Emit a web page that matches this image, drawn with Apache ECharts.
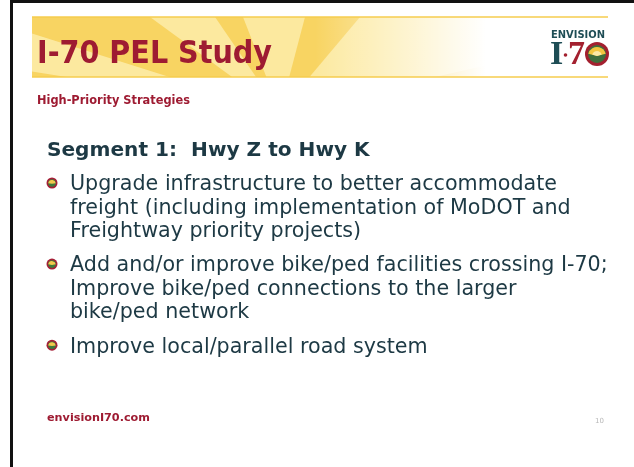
<!DOCTYPE html>
<html>
<head>
<meta charset="utf-8">
<script src="https://cdn.jsdelivr.net/npm/echarts@6/dist/echarts.min.js"></script>
<style>
html,body{margin:0;padding:0;background:#fff;}
#chart{width:634px;height:467px;}
</style>
</head>
<body>
<div id="chart"></div>
<script>
// ---- content ----
const titleText = 'I-70 PEL Study';
const subtitleText = 'High-Priority Strategies';
const segmentHeading = 'Segment 1:  Hwy Z to Hwy K';
const bulletItems = [
  ['Upgrade infrastructure to better accommodate',
   'freight (including implementation of MoDOT and',
   'Freightway priority projects)'],
  ['Add and/or improve bike/ped facilities crossing I-70;',
   'Improve bike/ped connections to the larger',
   'bike/ped network'],
  ['Improve local/parallel road system']
];
const footerText = 'envisionI70.com';
const pageNumber = '10';
const logoWord = 'ENVISION';
const logoDigits = ['I', '7'];

// ---- helpers ----
const ctx = document.createElement('canvas').getContext('2d');
function fitSize(text, weight, family, target) {
  ctx.font = weight + ' 100px ' + family;
  const w = ctx.measureText(text).width;
  return 100 * target / w;
}
function fontStr(weight, size, family) {
  return weight + ' ' + size.toFixed(2) + 'px ' + family;
}
function clipPoly(pts, x0, y0, x1, y1) {
  const edges = [p => p[0] >= x0, p => p[0] <= x1, p => p[1] >= y0, p => p[1] <= y1];
  const inter = [
    (a, b) => { const t = (x0 - a[0]) / (b[0] - a[0]); return [x0, a[1] + t * (b[1] - a[1])]; },
    (a, b) => { const t = (x1 - a[0]) / (b[0] - a[0]); return [x1, a[1] + t * (b[1] - a[1])]; },
    (a, b) => { const t = (y0 - a[1]) / (b[1] - a[1]); return [a[0] + t * (b[0] - a[0]), y0]; },
    (a, b) => { const t = (y1 - a[1]) / (b[1] - a[1]); return [a[0] + t * (b[0] - a[0]), y1]; }
  ];
  let out = pts;
  for (let e = 0; e < 4; e++) {
    const inp = out; out = [];
    for (let i = 0; i < inp.length; i++) {
      const cur = inp[i], prev = inp[(i + inp.length - 1) % inp.length];
      const cIn = edges[e](cur), pIn = edges[e](prev);
      if (cIn) { if (!pIn) out.push(inter[e](prev, cur)); out.push(cur); }
      else if (pIn) out.push(inter[e](prev, cur));
    }
  }
  return out;
}

// ---- style ----
const RED = '#9E1B32';
const BODY = '#1D3944';
const SANS = '"DejaVu Sans"';
const NARROW = '"Liberation Sans Narrow", "DejaVu Sans Condensed", sans-serif';
const SERIF = '"Liberation Serif", "DejaVu Serif", serif';

const graphics = [];

// slide border
graphics.push({ type: 'line', shape: { x1: 10, y1: 1.5, x2: 634, y2: 1.5 }, style: { stroke: '#111', lineWidth: 3 } });
graphics.push({ type: 'line', shape: { x1: 11.5, y1: 0, x2: 11.5, y2: 467 }, style: { stroke: '#111', lineWidth: 3 } });

// banner
const bx0 = 32, by0 = 17, bx1 = 520, by1 = 77;
graphics.push({ type: 'rect', shape: { x: bx0, y: by0, width: bx1 - bx0, height: by1 - by0 }, style: { fill: '#F8D462' } });
const C = [280, 112];
const rayTops = [[-300, -20], [150, 215], [243, 305], [360, 700]];
rayTops.forEach(r => {
  const poly = clipPoly([[r[0], by0], [r[1], by0], C], bx0, by0, bx1, by1);
  graphics.push({ type: 'polygon', shape: { points: poly }, style: { fill: 'rgba(253,236,170,0.85)' } });
});
graphics.push({
  type: 'rect', shape: { x: bx0, y: by0, width: bx1 - bx0, height: by1 - by0 },
  style: { fill: new echarts.graphic.LinearGradient(0, 0, 1, 0, [
    { offset: 0, color: 'rgba(255,255,255,0)' },
    { offset: 0.58, color: 'rgba(255,255,255,0)' },
    { offset: 0.78, color: 'rgba(255,255,255,0.55)' },
    { offset: 0.93, color: 'rgba(255,255,255,1)' },
    { offset: 1, color: 'rgba(255,255,255,1)' }
  ]) }
});
graphics.push({ type: 'line', shape: { x1: bx0, y1: by0, x2: 608, y2: by0 }, style: { stroke: '#F6CC4E', lineWidth: 1.5 } });
graphics.push({ type: 'line', shape: { x1: bx0, y1: by1, x2: 608, y2: by1 }, style: { stroke: '#F6CC4E', lineWidth: 1.5 } });

// title
const titleSize = fitSize(titleText, 'bold', NARROW, 235);
graphics.push({ type: 'text', style: { text: titleText, x: 37, y: 55, font: fontStr('bold', titleSize, NARROW), fill: RED, align: 'left', verticalAlign: 'middle' } });

// logo
const envSize = fitSize(logoWord, 'bold', SANS, 54);
graphics.push({ type: 'text', style: { text: logoWord, x: 578, y: 35, font: fontStr('bold', envSize, SANS), fill: '#1E4D55', align: 'center', verticalAlign: 'middle' } });
graphics.push({ type: 'text', style: { text: logoDigits[0], x: 550, y: 55, font: 'bold 34px ' + SERIF, fill: '#1E4D55', align: 'left', verticalAlign: 'middle' } });
graphics.push({ type: 'circle', shape: { cx: 565.5, cy: 55, r: 1.8 }, style: { fill: '#A3202F' } });
graphics.push({ type: 'text', style: { text: logoDigits[1], x: 568, y: 55, font: 'bold 34px ' + SERIF, fill: '#A3202F', align: 'left', verticalAlign: 'middle' } });
graphics.push({ type: 'circle', shape: { cx: 597, cy: 54, r: 12 }, style: { fill: '#A3202F' } });
graphics.push({ type: 'circle', shape: { cx: 597, cy: 54, r: 9 }, style: { fill: '#3F6E3C' } });
graphics.push({ type: 'sector', shape: { cx: 597, cy: 56, r0: 0, r: 9, startAngle: Math.PI * 1.08, endAngle: Math.PI * 1.92, clockwise: true }, style: { fill: '#F3C63F' } });
graphics.push({ type: 'sector', shape: { cx: 597, cy: 56, r0: 0, r: 5, startAngle: Math.PI * 1.1, endAngle: Math.PI * 1.9, clockwise: true }, style: { fill: '#FBE9A6' } });

// subtitle
const subSize = fitSize(subtitleText, 'bold', NARROW, 153);
graphics.push({ type: 'text', style: { text: subtitleText, x: 37, y: 101, font: fontStr('bold', subSize, NARROW), fill: RED, align: 'left', verticalAlign: 'middle' } });

// segment heading
const segSize = fitSize(segmentHeading, 'bold', SANS, 323);
graphics.push({ type: 'text', style: { text: segmentHeading, x: 47, y: 151, font: fontStr('bold', segSize, SANS), fill: BODY, align: 'left', verticalAlign: 'middle' } });

// bullets
const bodySize = fitSize(bulletItems[0][0], 'normal', SANS, 487);
const lineH = 23.2, gap = 11.5;
let y = 185;
bulletItems.forEach(item => {
  const by = y - 2;
  graphics.push({ type: 'circle', shape: { cx: 52, cy: by, r: 5.5 }, style: { fill: '#A51E36' } });
  graphics.push({ type: 'circle', shape: { cx: 52, cy: by, r: 3.8 }, style: { fill: '#3E7A3C' } });
  graphics.push({ type: 'sector', shape: { cx: 52, cy: by + 0.8, r0: 0, r: 3.8, startAngle: Math.PI * 1.05, endAngle: Math.PI * 1.95, clockwise: true }, style: { fill: '#F3C84B' } });
  item.forEach(line => {
    graphics.push({ type: 'text', style: { text: line, x: 70, y: y, font: fontStr('normal', bodySize, SANS), fill: BODY, align: 'left', verticalAlign: 'middle' } });
    y += lineH;
  });
  y += gap;
});

// footer
const footSize = fitSize(footerText, 'bold', SANS, 103);
graphics.push({ type: 'text', style: { text: footerText, x: 47, y: 418, font: fontStr('bold', footSize, SANS), fill: RED, align: 'left', verticalAlign: 'middle' } });
graphics.push({ type: 'text', style: { text: pageNumber, x: 595, y: 421, font: '7px ' + SANS, fill: '#B8B8B8', align: 'left', verticalAlign: 'middle' } });

const chart = echarts.init(document.getElementById('chart'), null, { renderer: 'canvas' });
chart.setOption({ animation: false, backgroundColor: '#ffffff', graphic: { elements: graphics } });
</script>
</body>
</html>
